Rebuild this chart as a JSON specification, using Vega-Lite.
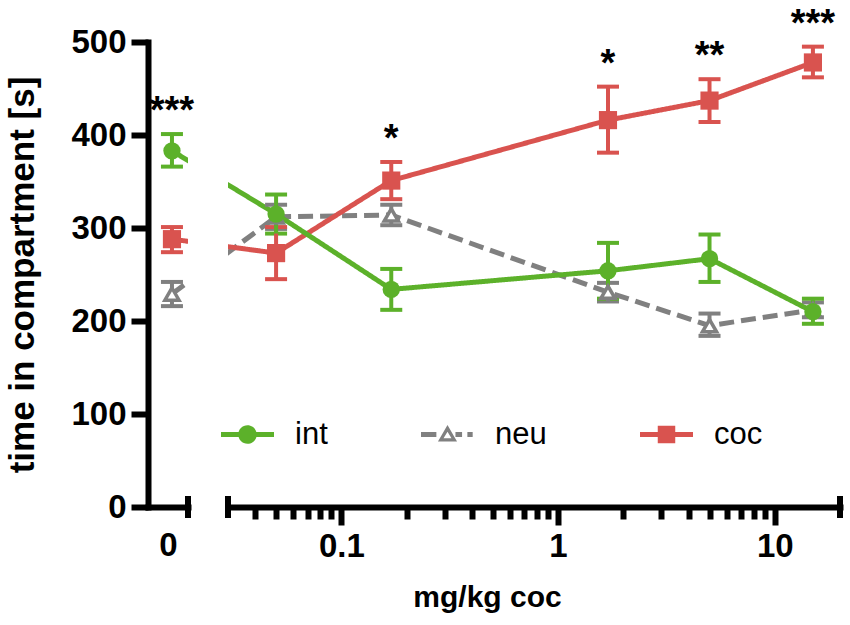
{
  "$schema": "https://vega.github.io/schema/vega-lite/v6.json",
  "background": "white",
  "padding": {"left": 5, "top": 5, "right": 5, "bottom": 5},
  "bounds": "flush",
  "spacing": 40,
  "config": {
    "font": "Liberation Sans",
    "view": {"stroke": null},
    "axis": {
      "grid": false,
      "domainColor": "black",
      "domainWidth": 6,
      "domainCap": "square",
      "tickColor": "black",
      "tickWidth": 6,
      "labelColor": "black",
      "labelFont": "Liberation Sans",
      "labelFontSize": 33,
      "labelFontWeight": "bold",
      "titleColor": "black",
      "titleFont": "Liberation Sans",
      "titleFontWeight": "bold"
    }
  },
  "datasets": {
    "d": [
      {"group": "neu", "dose": 0, "mean": 229, "lo": 216, "hi": 242, "sig": ""},
      {"group": "neu", "dose": 0.05, "mean": 312, "lo": 299, "hi": 325, "sig": ""},
      {"group": "neu", "dose": 0.17, "mean": 314, "lo": 303, "hi": 325, "sig": ""},
      {"group": "neu", "dose": 1.7, "mean": 231, "lo": 221, "hi": 241, "sig": ""},
      {"group": "neu", "dose": 5, "mean": 195, "lo": 184, "hi": 208, "sig": ""},
      {"group": "neu", "dose": 15, "mean": 212, "lo": 204, "hi": 220, "sig": ""},
      {"group": "coc", "dose": 0, "mean": 288, "lo": 274, "hi": 301, "sig": ""},
      {"group": "coc", "dose": 0.05, "mean": 273, "lo": 245, "hi": 301, "sig": ""},
      {"group": "coc", "dose": 0.17, "mean": 351, "lo": 331, "hi": 371, "sig": "*"},
      {"group": "coc", "dose": 1.7, "mean": 416, "lo": 381, "hi": 452, "sig": "*"},
      {"group": "coc", "dose": 5, "mean": 437, "lo": 414, "hi": 460, "sig": "**"},
      {"group": "coc", "dose": 15, "mean": 478, "lo": 462, "hi": 495, "sig": "***"},
      {"group": "int", "dose": 0, "mean": 383, "lo": 366, "hi": 401, "sig": "***"},
      {"group": "int", "dose": 0.05, "mean": 315, "lo": 294, "hi": 336, "sig": ""},
      {"group": "int", "dose": 0.17, "mean": 234, "lo": 212, "hi": 256, "sig": ""},
      {"group": "int", "dose": 1.7, "mean": 254, "lo": 224, "hi": 284, "sig": ""},
      {"group": "int", "dose": 5, "mean": 267, "lo": 242, "hi": 293, "sig": ""},
      {"group": "int", "dose": 15, "mean": 210, "lo": 197, "hi": 224, "sig": ""}
    ]
  },
  "hconcat": [
    {
      "width": 40,
      "height": 465,
      "data": {"name": "d"},
      "layer": [
        {
          "mark": {"type": "line", "clip": true, "strokeWidth": 5},
          "encoding": {
            "x": {"field": "dose", "type": "quantitative", "title": null,
              "scale": {"domain": [-0.0115, 0.0077], "nice": false, "zero": false},
              "axis": {"values": [0], "labelExpr": "'0'", "ticks": false, "labelPadding": 22, "labelOffset": -4}},
            "y": {"field": "mean", "type": "quantitative", "title": "time in compartment [s]",
              "scale": {"domain": [0, 500], "nice": false},
              "axis": {"values": [0, 100, 200, 300, 400, 500],
                "titleFontSize": 35, "titlePadding": 30, "tickSize": 17, "labelPadding": 5}},
            "color": {"field": "group", "type": "nominal", "scale": {"domain": ["int", "neu", "coc"], "range": ["#5cb12a", "#808080", "#d9534f"]}, "legend": null},
            "strokeDash": {"field": "group", "type": "nominal", "scale": {"domain": ["int", "neu", "coc"], "range": [[1, 0], [15, 7], [1, 0]]}, "legend": null}
          }
        },
        {
          "transform": [{"filter": "datum.dose == 0"}],
          "mark": {"type": "errorbar", "thickness": 4, "ticks": {"size": 22, "opacity": 1}, "rule": {"opacity": 1}},
          "encoding": {
            "x": {"field": "dose", "type": "quantitative", "title": null},
            "y": {"field": "lo", "type": "quantitative", "title": "time in compartment [s]"},
            "y2": {"field": "hi"},
            "color": {"field": "group", "type": "nominal", "legend": null}
          }
        },
        {
          "transform": [{"filter": "datum.dose == 0 && datum.group == 'neu'"}],
          "mark": {"type": "point", "shape": "triangle-up", "filled": true, "size": 200, "fill": "white", "stroke": "#808080", "strokeWidth": 3.5, "opacity": 1},
          "encoding": {"x": {"field": "dose", "type": "quantitative", "title": null}, "y": {"field": "mean", "type": "quantitative", "title": "time in compartment [s]"}}
        },
        {
          "transform": [{"filter": "datum.dose == 0 && datum.group == 'coc'"}],
          "mark": {"type": "point", "shape": "square", "filled": true, "size": 330, "color": "#d9534f", "opacity": 1},
          "encoding": {"x": {"field": "dose", "type": "quantitative", "title": null}, "y": {"field": "mean", "type": "quantitative", "title": "time in compartment [s]"}}
        },
        {
          "transform": [{"filter": "datum.dose == 0 && datum.group == 'int'"}],
          "mark": {"type": "point", "shape": "circle", "filled": true, "size": 300, "color": "#5cb12a", "opacity": 1},
          "encoding": {"x": {"field": "dose", "type": "quantitative", "title": null}, "y": {"field": "mean", "type": "quantitative", "title": "time in compartment [s]"}}
        },
        {
          "transform": [{"filter": "datum.dose == 0 && datum.sig"}],
          "mark": {"type": "text", "fontSize": 38, "fontWeight": "bold", "baseline": "alphabetic", "dy": -11, "color": "black"},
          "encoding": {"x": {"field": "dose", "type": "quantitative", "title": null}, "y": {"field": "hi", "type": "quantitative", "title": "time in compartment [s]"}, "text": {"field": "sig"}}
        },
        {
          "data": {"values": [{}]},
          "mark": {"type": "rule", "strokeWidth": 6, "color": "black", "clip": false},
          "encoding": {"x": {"datum": 0.0077, "title": null}, "y": {"datum": -11.8, "title": "time in compartment [s]"}, "y2": {"datum": 11.8}}
        }
      ]
    },
    {
      "width": 612,
      "height": 465,
      "data": {"name": "d"},
      "resolve": {"scale": {"x": "independent"}},
      "layer": [
        {
          "transform": [{"filter": "datum.dose <= 0.05"}],
          "mark": {"type": "line", "clip": true, "strokeWidth": 5},
          "encoding": {
            "x": {"field": "dose", "type": "quantitative", "scale": {"domain": [0.02688, 0.32069], "nice": false, "zero": false}, "axis": null},
            "y": {"field": "mean", "type": "quantitative", "scale": {"domain": [0, 500], "nice": false}, "axis": null},
            "color": {"field": "group", "type": "nominal", "scale": {"domain": ["int", "neu", "coc"], "range": ["#5cb12a", "#808080", "#d9534f"]}, "legend": null},
            "strokeDash": {"field": "group", "type": "nominal", "scale": {"domain": ["int", "neu", "coc"], "range": [[1, 0], [15, 7], [1, 0]]}, "legend": null}
          }
        },
        {
          "layer": [
            {
              "transform": [{"filter": "datum.dose > 0"}],
              "mark": {"type": "errorbar", "thickness": 4, "ticks": {"size": 22, "opacity": 1}, "rule": {"opacity": 1}},
              "encoding": {
                "x": {"field": "dose", "type": "quantitative", "title": "mg/kg coc",
                  "scale": {"type": "log", "domain": [0.03, 20], "nice": false},
                  "axis": {
                    "values": [0.04, 0.05, 0.06, 0.07, 0.08, 0.09, 0.1, 0.2, 0.3, 0.4, 0.5, 0.6, 0.7, 0.8, 0.9, 1, 2, 3, 4, 5, 6, 7, 8, 9, 10],
                    "labelExpr": "datum.value === 0.1 || datum.value === 1 || datum.value === 10 ? format(datum.value, '~g') : ''",
                    "tickSize": {"condition": {"test": "datum.value === 0.1 || datum.value === 1 || datum.value === 10", "value": 18}, "value": 12},
                    "labelPadding": 5,
                    "labelOverlap": false,
                    "labelFlush": false,
                    "labelBound": false,
                    "titleFontSize": 30,
                    "titleX": 259,
                    "titleY": 99,
                    "titleAlign": "center",
                    "titleBaseline": "alphabetic"
                  }},
                "y": {"field": "lo", "type": "quantitative", "axis": null},
                "y2": {"field": "hi"},
                "color": {"field": "group", "type": "nominal", "legend": null}
              }
            },
            {
              "transform": [{"filter": "datum.dose > 0"}],
              "mark": {"type": "line", "strokeWidth": 5},
              "encoding": {
                "x": {"field": "dose", "type": "quantitative", "title": "mg/kg coc"},
                "y": {"field": "mean", "type": "quantitative", "axis": null},
                "color": {"field": "group", "type": "nominal", "legend": null},
                "strokeDash": {"field": "group", "type": "nominal", "legend": null}
              }
            },
            {
              "transform": [{"filter": "datum.dose > 0 && datum.group == 'neu'"}],
              "mark": {"type": "point", "shape": "triangle-up", "filled": true, "size": 200, "fill": "white", "stroke": "#808080", "strokeWidth": 3.5, "opacity": 1},
              "encoding": {"x": {"field": "dose", "type": "quantitative", "title": "mg/kg coc"}, "y": {"field": "mean", "type": "quantitative", "axis": null}}
            },
            {
              "transform": [{"filter": "datum.dose > 0 && datum.group == 'coc'"}],
              "mark": {"type": "point", "shape": "square", "filled": true, "size": 330, "color": "#d9534f", "opacity": 1},
              "encoding": {"x": {"field": "dose", "type": "quantitative", "title": "mg/kg coc"}, "y": {"field": "mean", "type": "quantitative", "axis": null}}
            },
            {
              "transform": [{"filter": "datum.dose > 0 && datum.group == 'int'"}],
              "mark": {"type": "point", "shape": "circle", "filled": true, "size": 300, "color": "#5cb12a", "opacity": 1},
              "encoding": {"x": {"field": "dose", "type": "quantitative", "title": "mg/kg coc"}, "y": {"field": "mean", "type": "quantitative", "axis": null}}
            },
            {
              "transform": [{"filter": "datum.dose > 0 && datum.sig"}],
              "mark": {"type": "text", "fontSize": 38, "fontWeight": "bold", "baseline": "alphabetic", "dy": -11, "color": "black"},
              "encoding": {"x": {"field": "dose", "type": "quantitative", "title": "mg/kg coc"}, "y": {"field": "hi", "type": "quantitative", "axis": null}, "text": {"field": "sig"}}
            },
            {
              "data": {"values": [{}]},
              "mark": {"type": "rule", "strokeWidth": 6, "color": "black", "clip": false},
              "encoding": {"x": {"datum": 0.03, "title": "mg/kg coc"}, "y": {"datum": -11.8, "axis": null}, "y2": {"datum": 11.8}}
            },
            {
              "data": {"values": [{}]},
              "mark": {"type": "rule", "strokeWidth": 6, "color": "black", "clip": false},
              "encoding": {"x": {"datum": 20, "title": "mg/kg coc"}, "y": {"datum": -11.8, "axis": null}, "y2": {"datum": 11.8}}
            },
            {
              "transform": [{"filter": "datum.dose == 15"}],
              "mark": {"type": "point", "filled": true, "opacity": 0},
              "encoding": {
                "x": {"field": "dose", "type": "quantitative", "title": "mg/kg coc"},
                "y": {"field": "mean", "type": "quantitative", "axis": null},
                "shape": {"field": "group", "type": "nominal",
                  "scale": {"domain": ["int", "neu", "coc"], "range": [
                    "M-1,-0.09H1V0.09H-1Z M-0.35,0A0.35,0.35 0 1,1 0.35,0A0.35,0.35 0 1,1 -0.35,0Z",
                    "M-1,-0.09H-0.42V0.09H-1Z M0,-0.36L0.36,0.26L-0.36,0.26Z M0,-0.1L-0.15,0.14L0.15,0.14Z M0.3,-0.09H0.55V0.09H0.3Z M0.75,-0.09H0.95V0.09H0.75Z",
                    "M-1,-0.09H1V0.09H-1Z M-0.33,-0.33H0.33V0.33H-0.33Z"
                  ]},
                  "legend": {"orient": "none", "legendX": -7, "legendY": 366, "direction": "horizontal", "columns": 3, "title": null,
                    "symbolSize": 2809, "symbolStrokeWidth": 0, "symbolOpacity": 1, "labelFontSize": 31, "labelFont": "Liberation Sans",
                    "labelColor": "black", "labelOffset": 21, "columnPadding": 93, "gridAlign": "none", "padding": 0}},
                "fill": {"field": "group", "type": "nominal",
                  "scale": {"domain": ["int", "neu", "coc"], "range": ["#5cb12a", "#808080", "#d9534f"]},
                  "legend": {"orient": "none", "legendX": -7, "legendY": 366, "direction": "horizontal", "columns": 3, "title": null,
                    "symbolSize": 2809, "symbolStrokeWidth": 0, "symbolOpacity": 1, "labelFontSize": 31, "labelFont": "Liberation Sans",
                    "labelColor": "black", "labelOffset": 21, "columnPadding": 93, "gridAlign": "none", "padding": 0}}
              }
            }
          ]
        }
      ]
    }
  ],
  "resolve": {"scale": {"shape": "independent", "fill": "independent"}, "legend": {"shape": "independent", "fill": "independent"}}
}
